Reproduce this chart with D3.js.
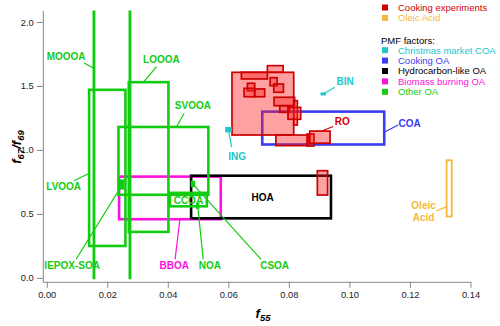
<!DOCTYPE html>
<html>
<head>
<meta charset="utf-8">
<script src="https://cdn.jsdelivr.net/npm/d3@7"></script>
<style>
  body { margin: 0; background: #fff; }
  svg { display: block; font-family: "Liberation Sans", Arial, sans-serif; }
  .axis path, .axis line { stroke: #888; }
  .axis text { fill: #222; font-size: 9.3px; }
</style>
</head>
<body>
<svg width="500" height="326"></svg>
<script>
// PMF factor ranges [name, f55 min, f55 max, f67/69 min, f67/69 max]
var otherOA = [
  ["MOOOA", 0.01555, 0.01565, 0.00, 2.30],
  ["OOA", 0.02745, 0.02755, 0.00, 2.30],
  ["LVOOA", 0.0140, 0.0260, 0.25, 1.47],
  ["LOOOA", 0.0271, 0.0402, 0.36, 1.53],
  ["SVOOA", 0.0237, 0.0534, 0.65, 1.18],
  ["CCOA", 0.0407, 0.0529, 0.56, 0.665],
  ["IEPOX-SOA", 0.0246, 0.0251, 0.70, 0.76],
  ["NOA", 0.0497, 0.0500, 0.55, 0.58],
  ["CSOA", 0.0480, 0.0486, 0.72, 0.75]
];
var bboa = [["BBOA", 0.0239, 0.0575, 0.459, 0.792]];
var hoa = [["HOA", 0.0477, 0.0939, 0.466, 0.799]];
var coa = [["COA", 0.0712, 0.1115, 1.043, 1.300]];
var xmasCOA = [
  ["BIN", 0.0907, 0.0920, 1.432, 1.444],
  ["ING", 0.0592, 0.0609, 1.143, 1.174]
];
var oleic = [["Oleic Acid", 0.1321, 0.1338, 0.48, 0.92]];
var cooking = [
  [0.0612, 0.0816, 1.117, 1.607],
  [0.0729, 0.0781, 1.607, 1.659],
  [0.0643, 0.0729, 1.555, 1.607],
  [0.0663, 0.0687, 1.463, 1.521],
  [0.0652, 0.0687, 1.416, 1.482],
  [0.0687, 0.0720, 1.416, 1.477],
  [0.0738, 0.0761, 1.502, 1.565],
  [0.0750, 0.0782, 1.451, 1.516],
  [0.0751, 0.0819, 1.346, 1.412],
  [0.0816, 0.0828, 1.195, 1.385],
  [0.0770, 0.0803, 1.294, 1.346],
  [0.0797, 0.0839, 1.240, 1.333],
  [0.0757, 0.0864, 1.034, 1.117],
  [0.0860, 0.0883, 1.031, 1.125],
  [0.0869, 0.0936, 1.053, 1.148],
  [0.0894, 0.0928, 0.648, 0.838]
];

var xTicks = [0, 0.02, 0.04, 0.06, 0.08, 0.10, 0.12, 0.14];
var yTicks = [0, 0.5, 1.0, 1.5, 2.0];

// labels: text, colour, label x/y, pointer from x/y, pointer to x/y (data units)
var labels = [
  ["MOOOA", "green", 0.0064, 1.734, 0.0123, 1.680, 0.0156, 1.638],
  ["LOOOA", "green", 0.0379, 1.711, 0.0363, 1.651, 0.0321, 1.534],
  ["SVOOA", "green", 0.0483, 1.344, 0.0454, 1.287, 0.0429, 1.182],
  ["LVOOA", "green", 0.0056, 0.713, 0.0090, 0.760, 0.0141, 0.818],
  ["IEPOX-SOA", "green", 0.0084, 0.094, 0.0097, 0.146, 0.0249, 0.727],
  ["BBOA", "magenta", 0.0421, 0.094, 0.0424, 0.145, 0.0440, 0.459],
  ["NOA", "green", 0.0539, 0.094, 0.0517, 0.145, 0.0499, 0.557],
  ["CSOA", "green", 0.0753, 0.094, 0.0708, 0.145, 0.0483, 0.734],
  ["HOA", "black", 0.0713, 0.627],
  ["CCOA", "green", 0.0468, 0.602],
  ["ING", "cyan", 0.0629, 0.953, 0.0611, 1.023, 0.0601, 1.145],
  ["BIN", "cyan", 0.0986, 1.539, 0.0952, 1.490, 0.0913, 1.438],
  ["RO", "red", 0.0976, 1.221, 0.0946, 1.184, 0.0909, 1.148],
  ["COA", "blue", 0.1199, 1.209, 0.1161, 1.195, 0.1118, 1.143],
  ["Oleic\nAcid", "orange", 0.1245, 0.520, 0.1286, 0.523, 0.1322, 0.557]
];

var legendTop = [["Cooking experiments", "red"], ["Oleic Acid", "orange"]];
var legendPMF = [
  ["Christmas market COA", "cyan"],
  ["Cooking OA", "blue"],
  ["Hydrocarbon-like OA", "black"],
  ["Biomass burning OA", "magenta"],
  ["Other OA", "green"]
];

var colors = {
  green: "#12cc12", magenta: "#ff10e0", black: "#000", blue: "#3c3cf0",
  cyan: "#20c8cc", red: "#d40000", orange: "#f5b83a"
};

var svg = d3.select("svg");

var x = d3.scaleLinear().domain([-0.0013, 0.14]).range([42.8, 470.5]);
var y = d3.scaleLinear().domain([-0.03, 2.09]).range([281.8, 10.5]);

svg.append("defs").append("clipPath").attr("id", "plot")
  .append("rect").attr("x", x.range()[0]).attr("y", y.range()[1])
  .attr("width", x.range()[1] - x.range()[0] + 2)
  .attr("height", y.range()[0] - y.range()[1]);

// axes
svg.append("g").attr("class", "axis")
    .attr("transform", "translate(0," + y.range()[0] + ")")
    .call(d3.axisBottom(x).tickValues(xTicks).tickFormat(d3.format(".2f"))
      .tickSize(6).tickSizeOuter(0).tickPadding(4));

svg.append("g").attr("class", "axis")
    .attr("transform", "translate(" + x.range()[0] + ",0)")
    .call(d3.axisLeft(y).tickValues(yTicks).tickFormat(d3.format(".1f"))
      .tickSize(6).tickSizeOuter(0).tickPadding(3));

var plot = svg.append("g").attr("clip-path", "url(#plot)");

function boxes(data, stroke, width, fill) {
  plot.append("g").selectAll("rect")
    .data(data)
    .enter().append("rect")
      .attr("x", function(d) { return x(d[1]); })
      .attr("y", function(d) { return y(d[4]); })
      .attr("width", function(d) { return x(d[2]) - x(d[1]); })
      .attr("height", function(d) { return y(d[3]) - y(d[4]); })
      .attr("fill", fill || "none")
      .attr("stroke", stroke)
      .attr("stroke-width", width);
}

boxes(bboa, colors.magenta, 2.6);
boxes(hoa, colors.black, 2.6);
boxes(coa, colors.blue, 2.6);
boxes(otherOA, colors.green, 2.6);

plot.append("g").selectAll("rect")
  .data(cooking)
  .enter().append("rect")
    .attr("x", function(d) { return x(d[0]); })
    .attr("y", function(d) { return y(d[3]); })
    .attr("width", function(d) { return x(d[1]) - x(d[0]); })
    .attr("height", function(d) { return y(d[2]) - y(d[3]); })
    .attr("fill", "rgba(255,30,30,0.42)")
    .attr("stroke", "#cc0000")
    .attr("stroke-width", 1.7);

boxes(oleic, colors.orange, 1.8);
boxes(xmasCOA, colors.cyan, 1.5, colors.cyan);

// annotations
var ann = svg.append("g").attr("font-size", "10px").attr("font-weight", "bold");
labels.forEach(function(l) {
  var c = colors[l[1]];
  if (l.length > 4) {
    ann.append("line")
      .attr("x1", x(l[4])).attr("y1", y(l[5]))
      .attr("x2", x(l[6])).attr("y2", y(l[7]))
      .attr("stroke", c).attr("stroke-width", 1.2);
  }
  var parts = l[0].split("\n");
  var t = ann.append("text")
    .attr("text-anchor", "middle")
    .attr("fill", c)
    .attr("x", x(l[2])).attr("y", y(l[3]));
  parts.forEach(function(p, i) {
    t.append("tspan").attr("x", x(l[2]))
      .attr("dy", i === 0 ? (0.35 - (parts.length - 1) * 0.6) + "em" : "1.2em")
      .text(p);
  });
});

// legend
var leg = svg.append("g").attr("transform", "translate(381,0)").attr("font-size", "9.5px");
function legendRows(rows, top) {
  rows.forEach(function(r, i) {
    var cy = top + i * 10.4;
    leg.append("rect").attr("x", 1).attr("y", cy - 3).attr("width", 6).attr("height", 6)
      .attr("fill", colors[r[1]]);
    leg.append("text").attr("x", 17).attr("y", cy + 3.4)
      .attr("fill", colors[r[1]]).text(r[0]);
  });
}
legendRows(legendTop, 7.5);
leg.append("text").attr("x", 0).attr("y", 43.5).attr("fill", "#000").text("PMF factors:");
legendRows(legendPMF, 50.2);

// axis titles
var xt = svg.append("text").attr("x", 263).attr("y", 318)
  .attr("text-anchor", "middle").attr("font-size", "13px")
  .attr("font-weight", "bold").attr("font-style", "italic");
xt.append("tspan").text("f");
xt.append("tspan").attr("dy", 3).attr("font-size", "9.5px").text("55");

var yt = svg.append("text").attr("transform", "translate(21,147) rotate(-90)")
  .attr("text-anchor", "middle").attr("font-size", "13px")
  .attr("font-weight", "bold").attr("font-style", "italic");
yt.append("tspan").text("f");
yt.append("tspan").attr("dy", 3).attr("font-size", "9.5px").text("67");
yt.append("tspan").attr("dy", -3).text("/f");
yt.append("tspan").attr("dy", 3).attr("font-size", "9.5px").text("69");
</script>
</body>
</html>
